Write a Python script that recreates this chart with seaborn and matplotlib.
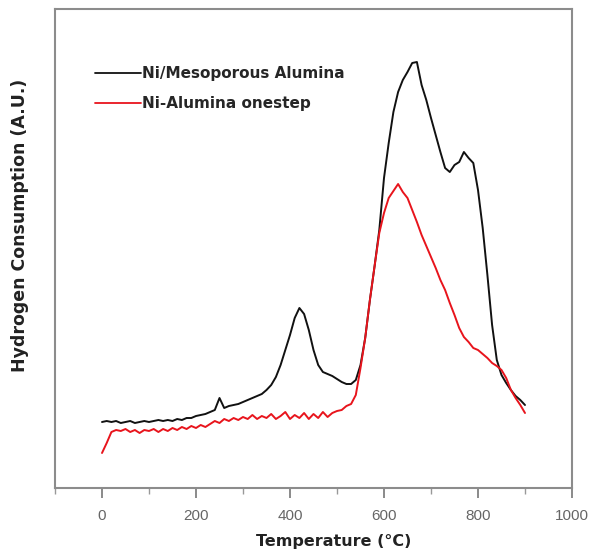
import matplotlib
matplotlib.use("Agg")
import matplotlib.pyplot as plt
import seaborn as sns
import pandas as pd
from matplotlib.ticker import MultipleLocator

temperature = list(range(0, 910, 10))

meso_alumina = [66, 67, 66, 67, 65, 66, 67, 65, 66, 67,
                66, 67, 68, 67, 68, 67, 69, 68, 70, 70,
                72, 73, 74, 76, 78, 90, 80, 82, 83, 84,
                86, 88, 90, 92, 94, 98, 103, 111, 123, 138,
                153, 170, 180, 174, 158, 138, 123, 116, 114, 112,
                109, 106, 104, 104, 108, 123, 150, 188, 222, 258,
                310, 345, 376, 396, 408, 416, 425, 426, 403, 388,
                370, 353, 336, 320, 316, 323, 326, 336, 330, 325,
                298, 260, 213, 163, 128, 113, 105, 98, 92, 88,
                83]

onestep = [35, 45, 56, 58, 57, 59, 56, 58, 55, 58,
           57, 59, 56, 59, 57, 60, 58, 61, 59, 62,
           60, 63, 61, 64, 67, 65, 69, 67, 70, 68,
           71, 69, 73, 69, 72, 70, 74, 69, 72, 76,
           69, 73, 70, 75, 69, 74, 70, 76, 71, 75,
           77, 78, 82, 84, 93, 120, 150, 188, 222, 255,
           275, 290, 297, 304, 296, 290, 278, 266, 253, 242,
           231, 220, 208, 198, 185, 173, 160, 151, 146, 140,
           138, 134, 130, 125, 122, 118, 110, 98, 90, 83,
           75]

series_names = ["Ni/Mesoporous Alumina", "Ni-Alumina onestep"]
series_colors = ["#111111", "#e8141c"]

x_ticks = [0, 200, 400, 600, 800, 1000]

df = pd.DataFrame({
    "Temperature": temperature * 2,
    "Value": meso_alumina + onestep,
    "Sample": [series_names[0]] * len(temperature) + [series_names[1]] * len(temperature),
})

sns.set_theme(style="white")
plt.rcParams["font.family"] = ["Liberation Sans", "DejaVu Sans"]

fig = plt.figure(figsize=(5.89, 5.55), dpi=100)
ax = fig.add_axes([55 / 589, 1 - 488 / 555, 517 / 589, 479 / 555])

sns.lineplot(data=df, x="Temperature", y="Value", hue="Sample",
             hue_order=series_names, palette=series_colors,
             linewidth=1.4, ax=ax)

ax.set_xlim(-100, 1000)
ax.set_ylim(0, 479)
ax.set_xticks(x_ticks)
ax.xaxis.set_minor_locator(MultipleLocator(100))
ax.set_yticks([])

for s in ax.spines.values():
    s.set_color("#8c8c8c")
    s.set_linewidth(1.5)

ax.tick_params(axis="x", which="major", direction="out", length=7, width=1.2,
               color="#777777", labelsize=11, labelcolor="#666666", pad=8, bottom=True)
ax.tick_params(axis="x", which="minor", direction="out", length=4, width=1.0,
               color="#999999", bottom=True)

ax.set_xlabel("Temperature (°C)", fontsize=11.5, fontweight="bold", color="#222222",
              family=["DejaVu Sans"], va="top")
ax.xaxis.set_label_coords(0.54, -0.096)
ax.set_ylabel("Hydrogen Consumption (A.U.)", fontsize=12.5, fontweight="bold", color="#222222",
              family=["DejaVu Sans"])
ax.yaxis.set_label_coords(-0.05, 0.549)

leg = ax.legend(loc="upper left", bbox_to_anchor=(0.077, 0.88), frameon=False,
                handlelength=3.0, handletextpad=0.1, labelspacing=0.95,
                borderpad=0, borderaxespad=0,
                prop={"weight": "bold", "size": 11, "family": ["DejaVu Sans"]})
for line in leg.get_lines():
    line.set_linewidth(1.3)

fig.savefig("out.png", dpi=100)
